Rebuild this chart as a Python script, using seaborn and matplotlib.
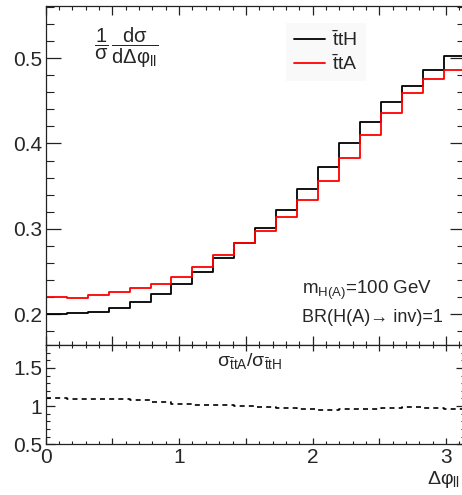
import numpy as np
import matplotlib
matplotlib.use("Agg")
import matplotlib.pyplot as plt
from matplotlib.ticker import MultipleLocator, FuncFormatter
from matplotlib.lines import Line2D
import seaborn as sns

# Normalised Δφ_ll distributions, 20 equal bins from 0 to π
n_bins = 20
phi_max = np.pi
tth = [0.200, 0.201, 0.203, 0.207, 0.214, 0.224, 0.236, 0.250, 0.266, 0.283,
       0.301, 0.322, 0.347, 0.373, 0.400, 0.425, 0.449, 0.467, 0.486, 0.502]
tta = [0.220, 0.219, 0.222, 0.226, 0.231, 0.236, 0.244, 0.255, 0.269, 0.284,
       0.298, 0.314, 0.334, 0.356, 0.383, 0.410, 0.436, 0.459, 0.476, 0.486]
x_tick_labels = ["0", "1", "2", "3"]
series_labels = [r"$\mathrm{\bar{t}tH}$", r"$\mathrm{\bar{t}tA}$"]

sns.set_style("ticks")
plt.rcParams["font.family"] = ["Liberation Sans", "DejaVu Sans"]
plt.rcParams["mathtext.fontset"] = "custom"
plt.rcParams["mathtext.rm"] = "Liberation Sans"
plt.rcParams["mathtext.it"] = "Liberation Sans:italic"
plt.rcParams["mathtext.bf"] = "Liberation Sans:bold"

edges = np.linspace(0, phi_max, n_bins + 1)
centers = 0.5 * (edges[:-1] + edges[1:])
ratio = np.array(tta) / np.array(tth)

W, H = 462, 495
fig = plt.figure(figsize=(W / 100, H / 100), dpi=100)


def rect(x0, y0, x1, y1):
    return [x0 / W, 1 - y1 / H, (x1 - x0) / W, (y1 - y0) / H]


ax_top = fig.add_axes(rect(45.7, 6, 464.9, 345))
ax_bot = fig.add_axes(rect(45.7, 345, 464.9, 444.3))

lw = 1.3
hist_kws = dict(bins=n_bins, binrange=(0, phi_max), element="step", fill=False)
sns.histplot(x=centers, weights=np.array(tth), color="black", linewidth=lw,
             ax=ax_top, **hist_kws)
sns.histplot(x=centers, weights=np.array(tta), color="#ff0000", linewidth=lw,
             ax=ax_top, **hist_kws)
sns.histplot(x=centers, weights=ratio, color="black", linewidth=1.2,
             linestyle=(0, (3, 2.5)), ax=ax_bot, **hist_kws)

for ax in (ax_top, ax_bot):
    ax.set_xlim(0, phi_max)
    ax.set_xlabel("")
    ax.set_ylabel("")
    for s in ax.spines.values():
        s.set_linewidth(0.9)
        s.set_color("#222222")
        s.set_visible(True)

ax_top.set_ylim(0.164, 0.561)
ax_bot.set_ylim(0.5, 1.8)

fmt = FuncFormatter(lambda v, p: f"{v:g}")
int_fmt = FuncFormatter(
    lambda v, p: x_tick_labels[int(round(v))]
    if abs(v - round(v)) < 1e-6 and 0 <= round(v) < len(x_tick_labels) else "")

tick_size = 15

# upper panel ticks
ax_top.xaxis.set_major_locator(MultipleLocator(0.5))
ax_top.xaxis.set_minor_locator(MultipleLocator(0.1))
ax_top.yaxis.set_major_locator(MultipleLocator(0.1))
ax_top.yaxis.set_minor_locator(MultipleLocator(0.02))
ax_top.yaxis.set_major_formatter(fmt)
ax_top.tick_params(axis="x", which="both", direction="in", top=True, bottom=True,
                   labelbottom=False, color="#222222")
ax_top.tick_params(axis="x", which="major", length=6.5, width=0.9)
ax_top.tick_params(axis="x", which="minor", length=3.2, width=0.8)
ax_top.tick_params(axis="y", which="both", direction="in", left=True, right=True,
                   labelsize=tick_size, pad=2.5, color="#222222")
ax_top.tick_params(axis="y", which="major", length=11, width=0.9)
ax_top.tick_params(axis="y", which="minor", length=5.5, width=0.8)

# ratio panel ticks
ax_bot.xaxis.set_major_locator(MultipleLocator(0.5))
ax_bot.xaxis.set_minor_locator(MultipleLocator(0.1))
ax_bot.xaxis.set_major_formatter(int_fmt)
ax_bot.yaxis.set_major_locator(MultipleLocator(0.5))
ax_bot.yaxis.set_minor_locator(MultipleLocator(0.1))
ax_bot.yaxis.set_major_formatter(fmt)
ax_bot.tick_params(axis="x", which="both", direction="in", top=True, bottom=True,
                   labelsize=tick_size, pad=3, color="#222222")
ax_bot.tick_params(axis="x", which="major", length=4.5, width=0.9)
ax_bot.tick_params(axis="x", which="minor", length=2.2, width=0.8)
ax_bot.tick_params(axis="y", which="both", direction="in", left=True, right=True,
                   labelsize=tick_size, pad=2.5, color="#222222")
ax_bot.tick_params(axis="y", which="major", length=6.5, width=0.9)
ax_bot.tick_params(axis="y", which="minor", length=3, width=0.8)

# legend
handles = [Line2D([], [], color="black", linewidth=lw),
           Line2D([], [], color="#ff0000", linewidth=lw)]
leg = fig.legend(handles, series_labels, loc="upper left",
                 bbox_to_anchor=(276 / W, 1 - 13 / H), fontsize=14,
                 handlelength=1.6, handletextpad=0.4, labelspacing=0.2,
                 borderpad=0.4, frameon=True, fancybox=False)
leg.get_frame().set_facecolor("#f8f8f8")
leg.get_frame().set_edgecolor("none")

# axis titles and annotations
fig.text(94 / W, 1 - 48 / H,
         r"$\dfrac{1}{\mathrm{σ}}\,\dfrac{\mathrm{dσ}}{\mathrm{dΔφ_{ll}}}$",
         fontsize=14.5, ha="left", va="center")
fig.text(302 / W, 1 - 290 / H, r"$\mathrm{m_{H(A)}}$=100 GeV",
         fontsize=13.5, ha="left", va="center")
fig.text(302 / W, 1 - 318 / H, "BR(H(A)\u2192 inv)=1",
         fontsize=13, ha="left", va="center")
fig.text(250 / W, 1 - 361 / H, "\u03c3$_{\\mathrm{\\bar{t}tA}}$/\u03c3$_{\\mathrm{\\bar{t}tH}}$",
         fontsize=14, ha="center", va="center")
fig.text(460 / W, 1 - 480 / H, "\u0394\u03c6$_{\\mathrm{ll}}$",
         fontsize=14, ha="right", va="center")

fig.savefig("out.png", dpi=100, facecolor="white")
